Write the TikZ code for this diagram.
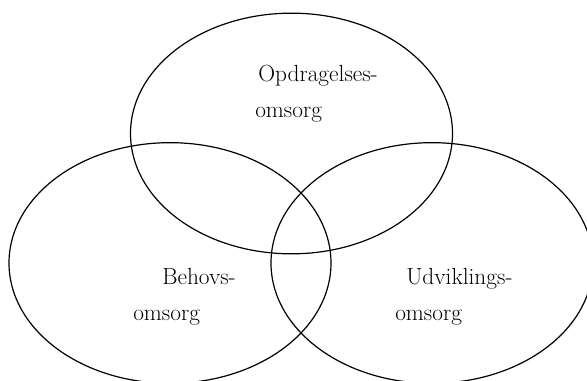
\documentclass[tikz,border=0pt]{standalone}
\usetikzlibrary{shapes.geometric}
\begin{document}
\begin{tikzpicture}[x=0.75pt,y=-0.75pt,
		myellipse/.style={ellipse,draw,line width=0.9pt,inner sep=0pt,
			minimum width=241.5pt,minimum height=180.5pt},
		mylabel/.style={anchor=base west,inner sep=0pt,font=\fontsize{17.5}{21}\selectfont}]
		
		\useasboundingbox (0,0) rectangle (587,381);
		
		\node[myellipse] (opdr) at (291.5,133.5) {};
		\node[myellipse] (behov) at (170,263) {};
		\node[myellipse] (udv) at (432,263) {};
		
		\node[mylabel] (opdr1) at (258,82) {Opdragelses-};
		\node[mylabel] (opdr2) at (255,118) {omsorg};
		\node[mylabel] (behov1) at (162,285) {Behovs-};
		\node[mylabel] (behov2) at (133,321) {omsorg};
		\node[mylabel] (udv1) at (406,285) {Udviklings-};
		\node[mylabel] (udv2) at (395,321) {omsorg};
		\end{tikzpicture}
\end{document}
